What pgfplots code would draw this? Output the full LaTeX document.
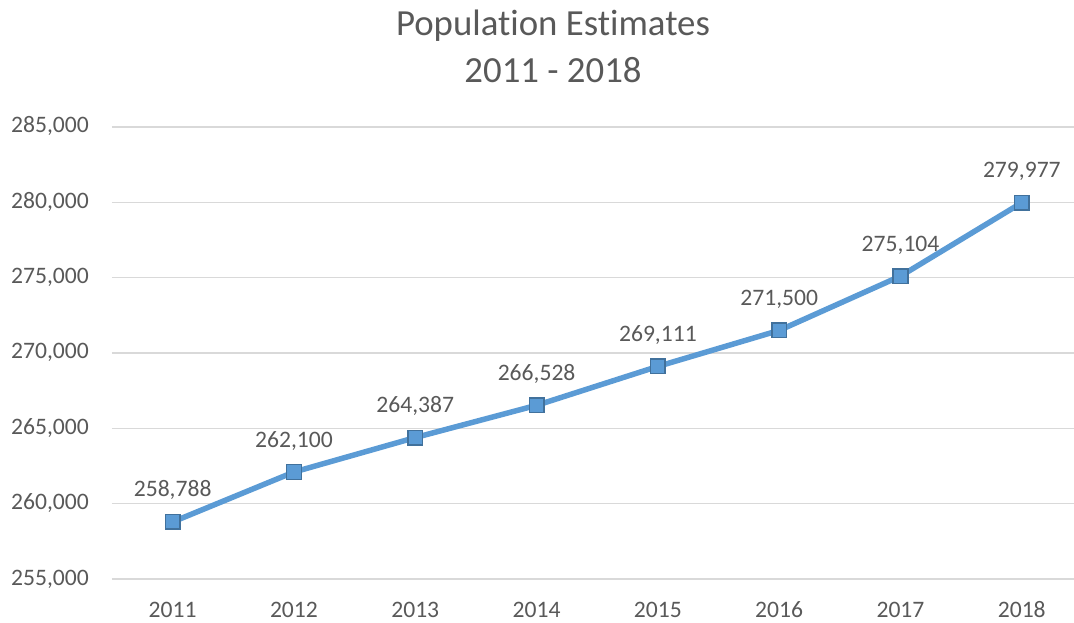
\documentclass[border=0pt]{standalone}
\usepackage{fontspec}
\setmainfont{Carlito}[Ligatures=NoCommon]
\usepackage{pgfplots}
\pgfplotsset{compat=1.18}
\definecolor{txt}{HTML}{595959}
\definecolor{gridc}{HTML}{D9D9D9}
\definecolor{linec}{HTML}{5B9BD5}
\definecolor{markc}{HTML}{41719C}
\begin{document}
\begin{tikzpicture}
\path[use as bounding box] (-112bp,-44bp) rectangle (962bp,579bp);
\begin{axis}[
    at={(0,0)}, anchor=south west,
    scale only axis,
    width=962bp, height=452bp,
    xmin=2010.5, xmax=2018.43,
    ymin=255000, ymax=285000,
    xtick={2011,...,2018},
    xticklabels={2011,2012,2013,2014,2015,2016,2017,2018},
    ytick={255000,260000,...,285000},
    yticklabels={{255,000},{260,000},{265,000},{270,000},{275,000},{280,000},{285,000}},
    scaled y ticks=false,
    axis line style={draw=none},
    major tick style={draw=none},
    ymajorgrids,
    grid style={gridc, line width=1.5bp},
    xticklabel style={anchor=base, inner sep=0pt, yshift=-38bp},
    yticklabel style={anchor=base east, inner sep=0pt, xshift=-23bp, yshift=-6bp},
    ticklabel style={font=\fontsize{23.6bp}{28bp}\selectfont, text=txt},
    point meta=explicit symbolic,
    nodes near coords,
    every node near coord/.append style={anchor=base, inner sep=0pt, yshift=25bp,
        font=\fontsize{23.6bp}{28bp}\selectfont, text=txt},
    clip=false,
]
\addplot[linec, line width=5.5bp, mark=square*,
    mark options={fill=linec, draw=markc, line width=1.5bp, mark size=7.3bp}]
coordinates {
    (2011,258788) [{258,788}]
    (2012,262100) [{262,100}]
    (2013,264387) [{264,387}]
    (2014,266528) [{266,528}]
    (2015,269111) [{269,111}]
    (2016,271500) [{271,500}]
    (2017,275104) [{275,104}]
    (2018,279977) [{279,977}]
};
\end{axis}
\node[anchor=base, text=txt, font=\fontsize{36.8bp}{44bp}\selectfont, inner sep=0pt] at (441bp,543bp) {Population Estimates};
\node[anchor=base, text=txt, font=\fontsize{36.8bp}{44bp}\selectfont, inner sep=0pt] at (441bp,496bp) {2011 - 2018};
\end{tikzpicture}
\end{document}
